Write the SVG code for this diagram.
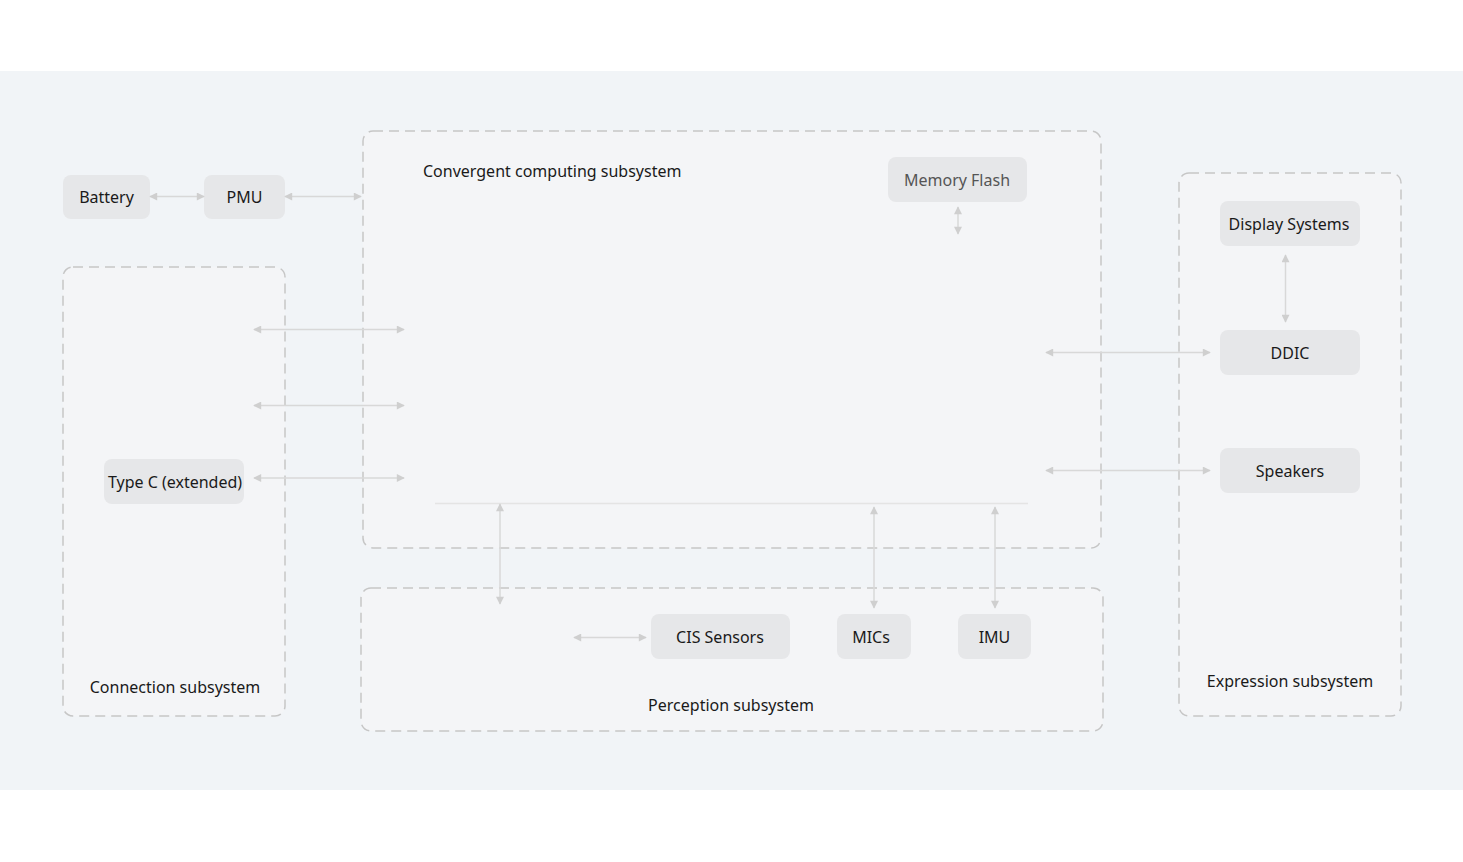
<svg xmlns="http://www.w3.org/2000/svg" width="1463" height="862" viewBox="0 0 1463 862">
<defs>
<marker id="ah" viewBox="0 0 10 10" refX="9" refY="5" markerWidth="10" markerHeight="8" markerUnits="userSpaceOnUse" orient="auto-start-reverse">
<path d="M0,0 L10,5 L0,10 z" fill="#cfcfcf"/>
</marker>
<style>
.grp{fill:#f4f5f7;stroke:#c6c6c6;stroke-width:1.5;stroke-dasharray:10 6}
.node{fill:#e6e7e9}
.t{font-family:"Noto Sans","Open Sans",sans-serif;font-size:16px;fill:#1a1a1a;text-anchor:middle}
.tl{font-family:"Noto Sans","Open Sans",sans-serif;font-size:16px;fill:#1a1a1a}
.c{stroke:#d8d8d8;stroke-width:1.5;fill:none;marker-start:url(#ah);marker-end:url(#ah)}
</style>
</defs>
<rect x="0" y="0" width="1463" height="862" fill="#ffffff"/>
<rect x="0" y="71" width="1463" height="719" fill="#f1f4f7"/>

<g id="convergent">
<rect class="grp" x="363" y="131" width="738" height="417" rx="10"/>
<text class="tl" x="423" y="177">Convergent computing subsystem</text>
</g>
<g id="connection">
<rect class="grp" x="63" y="267" width="222" height="449" rx="10"/>
<text class="t" x="175" y="693">Connection subsystem</text>
</g>
<g id="perception">
<rect class="grp" x="361" y="588" width="742" height="143" rx="10"/>
<text class="t" x="731" y="711">Perception subsystem</text>
</g>
<g id="expression">
<rect class="grp" x="1179" y="173" width="222" height="543" rx="10"/>
<text class="t" x="1290" y="687">Expression subsystem</text>
</g>

<g id="battery"><rect class="node" x="63" y="175" width="87" height="44" rx="8"/><text class="t" x="106.5" y="203">Battery</text></g>
<g id="pmu"><rect class="node" x="204" y="175" width="81" height="44" rx="8"/><text class="t" x="244.5" y="203">PMU</text></g>
<g id="memory-flash"><rect class="node" x="888" y="157" width="139" height="45" rx="8"/><text class="t" x="957" y="186" style="fill:#555555">Memory Flash</text></g>
<g id="type-c"><rect class="node" x="104" y="459" width="140" height="45" rx="8"/><text class="t" x="175" y="488">Type C (extended)</text></g>
<g id="display-systems"><rect class="node" x="1220" y="201" width="140" height="45" rx="8"/><text class="t" x="1289" y="230">Display Systems</text></g>
<g id="ddic"><rect class="node" x="1220" y="330" width="140" height="45" rx="8"/><text class="t" x="1290" y="359">DDIC</text></g>
<g id="speakers"><rect class="node" x="1220" y="448" width="140" height="45" rx="8"/><text class="t" x="1290" y="477">Speakers</text></g>
<g id="cis-sensors"><rect class="node" x="651" y="614" width="139" height="45" rx="8"/><text class="t" x="720" y="643">CIS Sensors</text></g>
<g id="mics"><rect class="node" x="837" y="614" width="74" height="45" rx="8"/><text class="t" x="871" y="643">MICs</text></g>
<g id="imu"><rect class="node" x="958" y="614" width="73" height="45" rx="8"/><text class="t" x="994.5" y="643">IMU</text></g>

<g id="connectors">
<line x1="435" y1="503.5" x2="1028" y2="503.5" stroke="#e4e4e4" stroke-width="1.5"/>
<line class="c" x1="150" y1="196.5" x2="204" y2="196.5"/>
<line class="c" x1="285" y1="196.5" x2="361" y2="196.5"/>
<line class="c" x1="958" y1="207" x2="958" y2="234"/>
<line class="c" x1="254" y1="329.5" x2="404" y2="329.5"/>
<line class="c" x1="254" y1="405.5" x2="404" y2="405.5"/>
<line class="c" x1="254" y1="478" x2="404" y2="478"/>
<line class="c" x1="1046" y1="352.5" x2="1210" y2="352.5"/>
<line class="c" x1="1046" y1="470.5" x2="1210" y2="470.5"/>
<line class="c" x1="1285.5" y1="255" x2="1285.5" y2="322"/>
<line class="c" x1="500" y1="504" x2="500" y2="604"/>
<line class="c" x1="874" y1="507" x2="874" y2="608"/>
<line class="c" x1="995" y1="507" x2="995" y2="608"/>
<line class="c" x1="574" y1="637.5" x2="646" y2="637.5"/>
</g>
</svg>
